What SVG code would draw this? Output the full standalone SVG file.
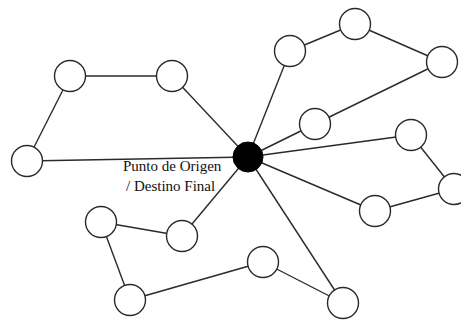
<svg xmlns="http://www.w3.org/2000/svg" width="461" height="322" viewBox="0 0 461 322">
<style>
.e{stroke:#2a2a2a;stroke-width:1.4;fill:none}
.n{fill:#fff;stroke:#2a2a2a;stroke-width:1.4}
.c{fill:#000;stroke:#000;stroke-width:1}
.t{font-family:"Liberation Serif","Times New Roman",serif;font-size:15px;fill:#111}
</style>
<rect width="461" height="322" fill="#fff"/>
<g id="connectors">
<line class="e" x1="248" y1="157" x2="172" y2="76"/>
<line class="e" x1="172" y1="76" x2="70" y2="76"/>
<line class="e" x1="70" y1="76" x2="27" y2="161"/>
<line class="e" x1="27" y1="161" x2="248" y2="157"/>
<line class="e" x1="248" y1="157" x2="290" y2="51"/>
<line class="e" x1="290" y1="51" x2="355" y2="24"/>
<line class="e" x1="355" y1="24" x2="442" y2="62"/>
<line class="e" x1="442" y1="62" x2="315" y2="124"/>
<line class="e" x1="315" y1="124" x2="248" y2="157"/>
<line class="e" x1="248" y1="157" x2="411" y2="135"/>
<line class="e" x1="411" y1="135" x2="454" y2="189"/>
<line class="e" x1="454" y1="189" x2="375" y2="211"/>
<line class="e" x1="375" y1="211" x2="248" y2="157"/>
<line class="e" x1="248" y1="157" x2="343" y2="303"/>
<line class="e" x1="343" y1="303" x2="263" y2="262"/>
<line class="e" x1="263" y1="262" x2="130" y2="300"/>
<line class="e" x1="130" y1="300" x2="101" y2="222"/>
<line class="e" x1="101" y1="222" x2="182" y2="236"/>
<line class="e" x1="182" y1="236" x2="248" y2="157"/>
</g>
<g id="n1"><circle class="n" cx="70" cy="76" r="15.5"/></g>
<g id="n2"><circle class="n" cx="172" cy="76" r="15.5"/></g>
<g id="n3"><circle class="n" cx="27" cy="161" r="15.5"/></g>
<g id="n4"><circle class="n" cx="290" cy="51" r="15.5"/></g>
<g id="n5"><circle class="n" cx="355" cy="24" r="15.5"/></g>
<g id="n6"><circle class="n" cx="442" cy="62" r="15.5"/></g>
<g id="n7"><circle class="n" cx="315" cy="124" r="15.5"/></g>
<g id="n8"><circle class="n" cx="411" cy="135" r="15.5"/></g>
<g id="n9"><circle class="n" cx="454" cy="189" r="15.5"/></g>
<g id="n10"><circle class="n" cx="375" cy="211" r="15.5"/></g>
<g id="n11"><circle class="n" cx="343" cy="303" r="15.5"/></g>
<g id="n12"><circle class="n" cx="263" cy="262" r="15.5"/></g>
<g id="n13"><circle class="n" cx="130" cy="300" r="15.5"/></g>
<g id="n14"><circle class="n" cx="101" cy="222" r="15.5"/></g>
<g id="n15"><circle class="n" cx="182" cy="236" r="15.5"/></g>
<g id="center">
<circle class="c" cx="248" cy="157" r="15"/>
<text class="t" x="123" y="171">Punto de Origen</text>
<text class="t" x="126" y="191">/ Destino Final</text>
</g>
</svg>
